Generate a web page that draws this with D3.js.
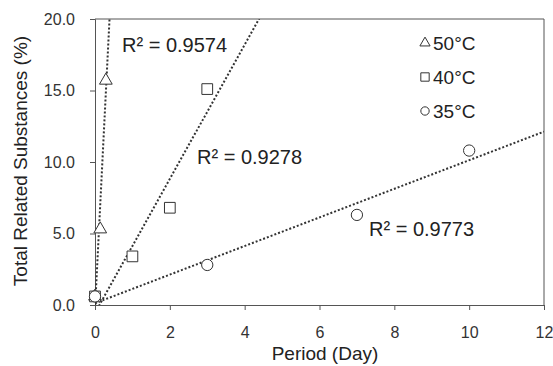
<!DOCTYPE html>
<html>
<head>
<meta charset="utf-8">
<title>stability</title>
<style>
  body { margin: 0; background: #fff; }
  text { font-family: Arial, "Liberation Sans", sans-serif; fill: #222; }
  .axis path, .axis line { stroke: #555; }
  .axis text { font-size: 16px; fill: #333; font-family: Arial, "Liberation Sans", sans-serif; }
</style>
</head>
<body>
<svg width="553" height="366"></svg>
<script src="https://d3js.org/d3.v7.min.js"></script>
<script>
// values
var days50 = [0, 0.14, 0.29];
var tot50 = [0.6, 5.3, 15.7];
var days40 = [0, 1, 2, 3];
var tot40 = [0.6, 3.4, 6.8, 15.1];
var days35 = [0, 3, 7, 10];
var tot35 = [0.6, 2.8, 6.3, 10.8];
var legendNames = ["50°C", "40°C", "35°C"];
var r2Labels = ["R² = 0.9574", "R² = 0.9278", "R² = 0.9773"];
var xTicks = [0, 2, 4, 6, 8, 10, 12];
var yTicks = [0, 5, 10, 15, 20];

var svg = d3.select("svg");
var m = {left: 95, right: 9, top: 19, bottom: 61};
var w = 553 - m.left - m.right, h = 366 - m.top - m.bottom;
var x = d3.scaleLinear().domain([0, 12]).range([0, w]);
var y = d3.scaleLinear().domain([0, 20]).range([h, 0]);
var g = svg.append("g").attr("transform", "translate(" + m.left + "," + m.top + ")");

g.append("clipPath").attr("id", "clip").append("rect").attr("width", w).attr("height", h);

// frame
g.append("path").attr("d", "M0,0H" + w + "V" + h).attr("fill", "none").attr("stroke", "#555");

g.append("g").attr("class", "axis").attr("transform", "translate(0," + h + ")")
  .call(d3.axisBottom(x).tickValues(xTicks).tickSize(5).tickPadding(17).tickFormat(d3.format("d")));
g.append("g").attr("class", "axis")
  .call(d3.axisLeft(y).tickValues(yTicks).tickSize(5).tickPadding(15).tickFormat(d3.format(".1f")));

var series = [
  {xs: days50, ys: tot50, sym: d3.symbolTriangle},
  {xs: days40, ys: tot40, sym: d3.symbolSquare},
  {xs: days35, ys: tot35, sym: d3.symbolCircle}
];

// linear trendlines (least squares)
series.forEach(function(s) {
  var mx = d3.mean(s.xs), my = d3.mean(s.ys);
  var sxy = d3.sum(s.xs, function(v, i) { return (v - mx) * (s.ys[i] - my); });
  var sxx = d3.sum(s.xs, function(v) { return (v - mx) * (v - mx); });
  var b = sxy / sxx, a = my - b * mx;
  g.append("line").attr("clip-path", "url(#clip)")
    .attr("x1", x(0)).attr("y1", y(a))
    .attr("x2", x(12)).attr("y2", y(a + b * 12))
    .attr("stroke", "#333").attr("stroke-width", 2).attr("stroke-dasharray", "2,2");
});

var sizes = [70, 115, 100];
series.forEach(function(s, k) {
  g.selectAll(null).data(s.xs).enter().append("path")
    .attr("transform", function(d, i) { return "translate(" + x(d) + "," + y(s.ys[i]) + ")"; })
    .attr("d", d3.symbol().type(s.sym).size(sizes[k]))
    .attr("fill", "#fff").attr("stroke", "#333").attr("stroke-width", 1);
});

// R² labels
var r2Pos = [[122, 52], [197, 164], [369, 236]];
r2Labels.forEach(function(t, i) {
  svg.append("text").attr("x", r2Pos[i][0]).attr("y", r2Pos[i][1])
    .attr("font-size", 20).text(t);
});

// legend
var lg = svg.append("g").attr("transform", "translate(425,43)");
legendNames.forEach(function(n, i) {
  lg.append("path").attr("transform", "translate(0," + (i * 34) + ")")
    .attr("d", d3.symbol().type(series[i].sym).size([45, 70, 55][i]))
    .attr("fill", "#fff").attr("stroke", "#333");
  lg.append("text").attr("x", 8).attr("y", i * 34 + 7).attr("font-size", 19).text(n);
});

svg.append("text").attr("x", 325).attr("y", 360).attr("text-anchor", "middle")
  .attr("font-size", 19).text("Period (Day)");
svg.append("text").attr("transform", "translate(27,161) rotate(-90)")
  .attr("text-anchor", "middle").attr("font-size", 19).text("Total Related Substances (%)");
</script>
</body>
</html>
